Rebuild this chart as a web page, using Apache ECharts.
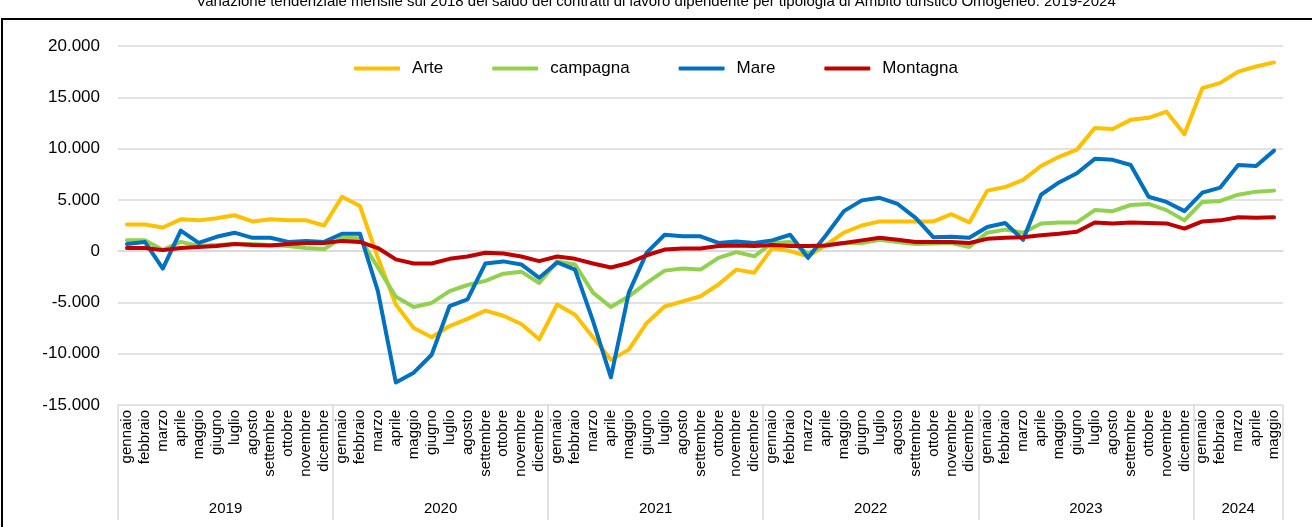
<!DOCTYPE html>
<html>
<head>
<meta charset="utf-8">
<script src="https://cdn.jsdelivr.net/npm/echarts@6/dist/echarts.min.js"></script>
<style>
  html, body { margin: 0; padding: 0; background: #fff; }
  #chart { width: 1312px; height: 527px; }
</style>
</head>
<body>
<div id="chart"></div>
<script>
var mesi = ['gennaio','febbraio','marzo','aprile','maggio','giugno','luglio','agosto','settembre','ottobre','novembre','dicembre'];
var anni = ['2019','2020','2021','2022','2023','2024'];
var mesiPerAnno = [12, 12, 12, 12, 12, 5];
var yTicks = [-15000, -10000, -5000, 0, 5000, 10000, 15000, 20000];

var arte = [2600, 2600, 2300, 3100, 3000, 3200, 3500, 2900, 3100, 3000, 3000, 2500,
    5300, 4400, -650, -5200, -7500, -8400, -7300, -6600, -5800, -6300, -7100, -8600,
    -5200, -6200, -8400, -10600, -9600, -7000, -5400, -4900, -4400, -3250, -1800, -2100,
    300, 0, -500, 600, 1800, 2500, 2900, 2900, 2900, 2900, 3600, 2800,
    5900, 6250, 6950, 8300, 9200, 9900, 12000, 11900, 12800, 13000, 13600, 11400,
    15900, 16400, 17500, 18000, 18400];
var campagna = [1050, 1050, 100, 900, 500, 600, 700, 700, 600, 500, 300, 200,
    1300, 1250, -1600, -4450, -5450, -5050, -3900, -3300, -2900, -2200, -2000, -3100,
    -1000, -1300, -4050, -5450, -4400, -3100, -1900, -1700, -1800, -650, -100, -500,
    800, 900, -200, 650, 800, 800, 1100, 900, 700, 750, 800, 400,
    1800, 2100, 1800, 2700, 2800, 2800, 4000, 3900, 4500, 4600, 4000, 3000,
    4800, 4900, 5500, 5800, 5900];
var mare = [700, 900, -1700, 2000, 800, 1400, 1800, 1300, 1300, 900, 1000, 900,
    1700, 1700, -3900, -12800, -11850, -10100, -5350, -4700, -1200, -1000, -1300, -2600,
    -1100, -1800, -6800, -12300, -4050, -150, 1600, 1450, 1450, 800, 950, 800,
    1050, 1600, -650, 1550, 3900, 4950, 5200, 4600, 3250, 1350, 1400, 1300,
    2350, 2750, 1100, 5500, 6700, 7600, 9000, 8900, 8400, 5300, 4800, 3900,
    5700, 6200, 8400, 8300, 9800];
var montagna = [300, 300, 100, 300, 400, 500, 700, 600, 550, 700, 800, 800,
    1000, 900, 300, -800, -1200, -1200, -750, -530, -160, -230, -520, -970,
    -520, -750, -1200, -1600, -1150, -400, 150, 250, 250, 500, 550, 500,
    600, 500, 500, 550, 800, 1050, 1300, 1100, 900, 900, 900, 800,
    1200, 1300, 1350, 1550, 1700, 1900, 2800, 2700, 2800, 2750, 2700, 2200,
    2900, 3000, 3300, 3250, 3300];

var categorie = [];
var confini = [0];
var centriAnno = [];
var pos = 0;
mesiPerAnno.forEach(function (n) {
    for (var m = 0; m < n; m++) categorie.push(mesi[m]);
    centriAnno.push(pos + n / 2);
    pos += n;
    confini.push(pos);
});

function migliaia(v) {
    var s = Math.abs(v).toString().replace(/\B(?=(\d{3})+(?!\d))/g, '.');
    return (v < 0 ? '-' : '') + s;
}

var colori = ['#FFC000', '#92D050', '#0070C0', '#C00000'];
var font = 'Liberation Sans, Arial, sans-serif';

function serie(nome, dati) {
    return {
        name: nome,
        type: 'line',
        data: dati,
        symbol: 'none',
        lineStyle: { width: 4, cap: 'round', join: 'round' },
        z: 3
    };
}

var option = {
    animation: false,
    color: colori,
    textStyle: { fontFamily: font, color: '#000' },
    title: {
        text: 'Variazione tendenziale mensile sul 2018 del saldo dei contratti di lavoro dipendente per tipologia di Ambito turistico Omogeneo. 2019-2024',
        left: 'center',
        top: -11,
        textStyle: { fontSize: 15, fontWeight: 'normal', color: '#000', fontFamily: font }
    },
    graphic: [{
        type: 'rect',
        shape: { x: 2, y: 19, width: 1330, height: 530 },
        style: { fill: 'none', stroke: '#000', lineWidth: 2 },
        silent: true
    }],
    legend: {
        top: 55,
        left: 'center',
        icon: 'roundRect',
        itemWidth: 46,
        itemHeight: 4,
        itemGap: 49,
        textStyle: { fontSize: 17, color: '#000', fontFamily: font, padding: [0, 0, 0, 7] },
        data: ['Arte', 'campagna', 'Mare', 'Montagna']
    },
    grid: { left: 118, right: 29, top: 46, bottom: 122, containLabel: false },
    xAxis: [{
        type: 'category',
        data: categorie,
        boundaryGap: true,
        axisLine: { lineStyle: { color: '#D9D9D9', width: 1.5 } },
        axisTick: { show: false },
        axisLabel: { rotate: 90, interval: 0, fontSize: 15, margin: 5, color: '#000' }
    }, {
        type: 'value',
        position: 'bottom',
        min: 0,
        max: 65,
        axisLine: { show: false },
        splitLine: { show: false },
        axisTick: {
            show: true,
            customValues: confini,
            length: 115,
            lineStyle: { color: '#D9D9D9', width: 1.5 }
        },
        axisLabel: {
            customValues: centriAnno,
            margin: 96,
            fontSize: 15,
            color: '#000',
            formatter: function (v) {
                var i = centriAnno.indexOf(v);
                return i >= 0 ? anni[i] : '';
            }
        }
    }],
    yAxis: {
        type: 'value',
        min: yTicks[0],
        max: yTicks[yTicks.length - 1],
        interval: 5000,
        axisLine: { show: false },
        axisTick: { show: false },
        splitLine: { lineStyle: { color: '#D9D9D9', width: 1.5 } },
        axisLabel: { fontSize: 17, margin: 18, color: '#000', formatter: migliaia }
    },
    series: [
        serie('Arte', arte),
        serie('campagna', campagna),
        serie('Mare', mare),
        serie('Montagna', montagna)
    ]
};

var chart = echarts.init(document.getElementById('chart'));
chart.setOption(option);
</script>
</body>
</html>
